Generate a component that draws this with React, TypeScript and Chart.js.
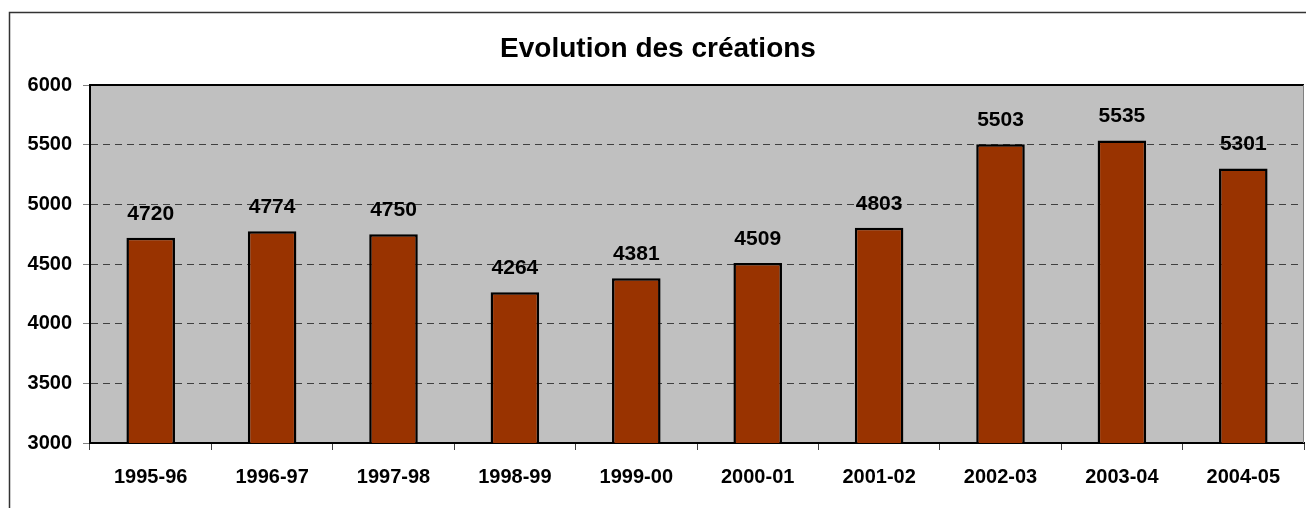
import React, { useEffect, useRef } from "react";
import { Chart, registerables } from "chart.js";

Chart.register(...registerables);

const categories = ["1995-96", "1996-97", "1997-98", "1998-99", "1999-00", "2000-01", "2001-02", "2002-03", "2003-04", "2004-05"];
const values = [4720, 4774, 4750, 4264, 4381, 4509, 4803, 5503, 5535, 5301];
const yMin = 3000;
const yMax = 6000;
const yStep = 500;
const titleText = "Evolution des créations";

const FONT = "'Liberation Sans', Arial, sans-serif";

const framePlugin = {
  id: "framePlugin",
  beforeDraw(chart: any) {
    const { ctx, chartArea } = chart;
    ctx.save();
    ctx.fillStyle = "#ffffff";
    ctx.fillRect(0, 0, chart.width, chart.height);
    ctx.strokeStyle = "#333333";
    ctx.lineWidth = 1.5;
    ctx.strokeRect(9.5, 12.5, 1320, 620);
    ctx.fillStyle = "#C0C0C0";
    ctx.fillRect(chartArea.left, chartArea.top, chartArea.right - chartArea.left, chartArea.bottom - chartArea.top);
    ctx.fillStyle = "#000";
    ctx.font = `bold 28px ${FONT}`;
    ctx.textAlign = "center";
    ctx.textBaseline = "alphabetic";
    ctx.fillText(titleText, 658, 57);
    ctx.restore();
  },
  afterDatasetsDraw(chart: any) {
    const { ctx, chartArea } = chart;
    ctx.save();
    ctx.strokeStyle = "#000";
    ctx.lineWidth = 2;
    ctx.beginPath();
    ctx.moveTo(chartArea.left - 1, chartArea.top);
    ctx.lineTo(chartArea.right, chartArea.top);
    ctx.stroke();
    ctx.strokeStyle = "#808080";
    ctx.lineWidth = 1;
    ctx.beginPath();
    ctx.moveTo(chartArea.right - 0.5, chartArea.top);
    ctx.lineTo(chartArea.right - 0.5, chartArea.bottom);
    ctx.stroke();
    const meta = chart.getDatasetMeta(0);
    ctx.fillStyle = "#000";
    ctx.font = `bold 21px ${FONT}`;
    ctx.textAlign = "center";
    ctx.textBaseline = "alphabetic";
    meta.data.forEach((bar: any, i: number) => {
      ctx.fillText(String(values[i]), bar.x, bar.y - 18);
    });
    ctx.restore();
  },
};

export default function App() {
  const ref = useRef<HTMLCanvasElement | null>(null);
  useEffect(() => {
    if (!ref.current) return;
    const chart = new Chart(ref.current, {
      type: "bar",
      data: {
        labels: categories,
        datasets: [
          {
            data: values,
            backgroundColor: "#993300",
            borderColor: "#000000",
            borderWidth: 2.5,
            barPercentage: 0.4,
            categoryPercentage: 1,
          },
        ],
      },
      options: {
        responsive: false,
        animation: false,
        events: [],
        layout: { padding: { left: 0, top: 85, right: 2, bottom: 0 } },
        plugins: {
          legend: { display: false },
          title: { display: false },
          tooltip: { enabled: false },
        },
        scales: {
          x: {
            offset: true,
            grid: {
              offset: true,
              drawOnChartArea: false,
              drawTicks: true,
              tickLength: 7,
              tickColor: "#404040",
              color: "#404040",
            },
            border: { display: true, color: "#000", width: 2 },
            ticks: {
              color: "#000",
              font: { family: FONT, size: 20, weight: "bold" },
              padding: 15,
              maxRotation: 0,
              autoSkip: false,
            },
            afterFit: (scale: any) => {
              scale.height = 65;
            },
          },
          y: {
            min: yMin,
            max: yMax,
            grid: {
              color: "#404040",
              lineWidth: 1,
              tickLength: 7,
              tickColor: "#808080",
              tickBorderDash: [],
            },
            border: { display: true, color: "#000", width: 2, dash: [7, 5] },
            ticks: {
              stepSize: yStep,
              color: "#000",
              font: { family: FONT, size: 20, weight: "bold" },
              padding: 11,
              callback: (v: any) => String(v),
            },
            afterFit: (scale: any) => {
              scale.width = 90;
            },
          },
        },
      },
      plugins: [framePlugin],
    });
    return () => chart.destroy();
  }, []);
  return (
    <div style={{ position: "absolute", left: 0, top: 0, width: 1306, height: 508 }}>
      <canvas ref={ref} width={1306} height={508} style={{ display: "block", width: 1306, height: 508 }} />
    </div>
  );
}
